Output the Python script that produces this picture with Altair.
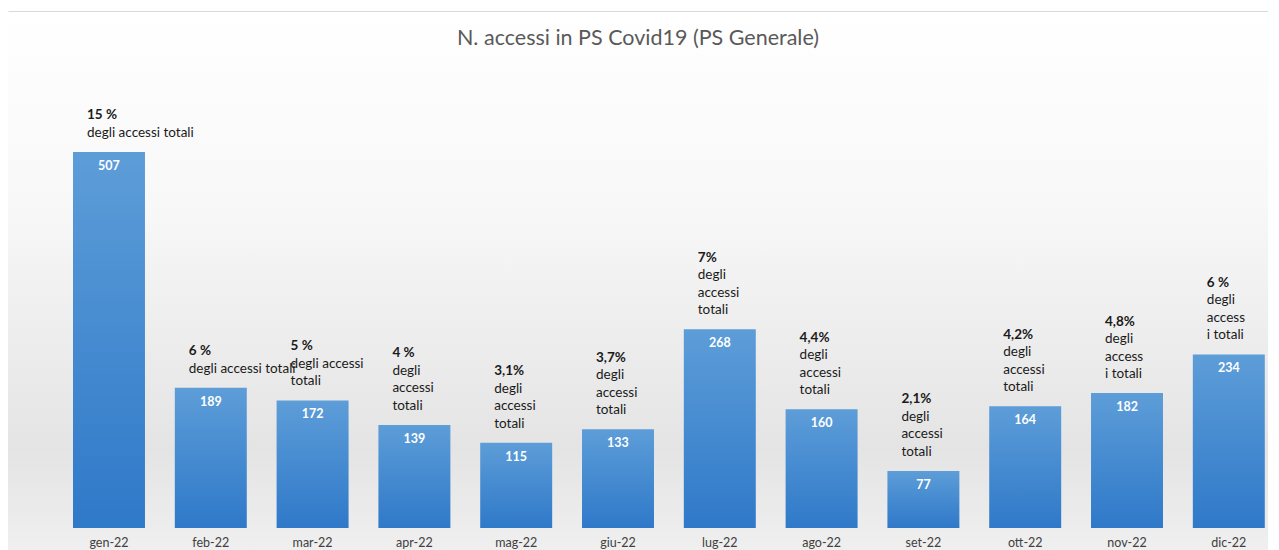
import altair as alt
import pandas as pd

months = ["gen-22", "feb-22", "mar-22", "apr-22", "mag-22", "giu-22",
          "lug-22", "ago-22", "set-22", "ott-22", "nov-22", "dic-22"]
values = [507, 189, 172, 139, 115, 133, 268, 160, 77, 164, 182, 234]
pcts = ["15 %", "6 %", "5 %", "4 %", "3,1%", "3,7%",
        "7%", "4,4%", "2,1%", "4,2%", "4,8%", "6 %"]
notes = [
    ["degli accessi totali"],
    [" degli accessi totali"],
    [" degli accessi", "totali"],
    [" degli", "accessi", "totali"],
    [" degli", "accessi", "totali"],
    [" degli", "accessi", "totali"],
    [" degli", "accessi", "totali"],
    [" degli", "accessi", "totali"],
    [" degli", "accessi", "totali"],
    [" degli", "accessi", "totali"],
    [" degli", "access", "i totali"],
    [" degli", "access", "i totali"],
]

NB = "\u00a0"


def keep(s):
    return NB + s[1:] if s.startswith(" ") else s


df = pd.DataFrame({"month": months, "value": values})

rows = []
for m, v, p, n in zip(months, values, pcts, notes):
    lines = [(p, True)] + [(keep(s), False) for s in n]
    L = len(lines)
    for i, (s, b) in enumerate(lines):
        rows.append({"month": m, "value": v, "line": s, "k": L - 1 - i, "bold": b})
ann = pd.DataFrame(rows)

FONT = "Lato"
W, H = 1260, 517
LH = 17.5
xscale = alt.Scale(paddingInner=0.293, paddingOuter=0.335, align=0.953)
yscale = alt.Scale(domain=[0, 697], nice=False)

bar_grad = alt.Gradient(
    gradient="linear",
    stops=[alt.GradientStop(color="#5d9dd8", offset=0),
           alt.GradientStop(color="#2f79c9", offset=1)],
    x1=0, x2=0, y1=0, y2=1,
)
bg_grad = alt.Gradient(
    gradient="linear",
    stops=[alt.GradientStop(color="#ffffff", offset=0),
           alt.GradientStop(color="#f8f8f8", offset=0.35),
           alt.GradientStop(color="#e4e4e4", offset=0.8),
           alt.GradientStop(color="#f0f0f0", offset=1)],
    x1=0, x2=0, y1=0, y2=1,
)

background = alt.Chart(pd.DataFrame({"bg": [0]})).mark_rect(color=bg_grad).encode(
    x=alt.value(0), x2=alt.value(W), y=alt.value(0), y2=alt.value(H + 30),
)

bars = alt.Chart(df).mark_bar(color=bar_grad).encode(
    x=alt.X("month:N", sort=months, scale=xscale,
            axis=alt.Axis(title=None, orient="bottom", domain=False, ticks=False,
                          labelAngle=0, labelFont=FONT, labelFontSize=12.5,
                          labelColor="#404040", labelPadding=8, zindex=2)),
    y=alt.Y("value:Q", scale=yscale,
            axis=alt.Axis(title=None, labels=False, grid=False, ticks=True,
                          tickSize=3, tickColor="#d9d9d9", domainColor="#d9d9d9",
                          tickCount=10, zindex=2)),
)

topline = alt.Chart(df).mark_bar(opacity=0).encode(
    x=alt.X("month:N", sort=months, scale=xscale,
            axis=alt.Axis(title=None, orient="top", labels=False, ticks=False,
                          domainColor="#d9d9d9", zindex=2)),
    y=alt.Y("value:Q", scale=yscale, axis=None),
)

vals = alt.Chart(df).mark_text(
    color="white", font=FONT, fontSize=12.5, fontWeight="bold",
    baseline="middle", dy=14,
).encode(
    x=alt.X("month:N", sort=months, scale=xscale, axis=None),
    y=alt.Y("value:Q", scale=yscale, axis=None),
    text=alt.Text("value:Q"),
)

ann_layers = []
for k in range(4):
    for b in (True, False):
        ann_layers.append(
            alt.Chart(ann).transform_filter(
                (alt.datum.k == k) & (alt.datum.bold == b)
            ).mark_text(
                color="#1a1a1a", font=FONT, fontSize=13.5,
                fontWeight="bold" if b else "normal",
                align="left", baseline="bottom", dx=14, dy=-12 - k * LH,
            ).encode(
                x=alt.X("month:N", sort=months, scale=xscale, bandPosition=0, axis=None),
                y=alt.Y("value:Q", scale=yscale, axis=None),
                text=alt.Text("line:N"),
            )
        )

chart = alt.layer(background, bars, topline, vals, *ann_layers).resolve_axis(
    x="independent"
).properties(
    width=W,
    height=H,
    padding={"left": 0, "top": 3, "right": 0, "bottom": 0},
    title=alt.TitleParams(
        "N. accessi in PS Covid19 (PS Generale)",
        font=FONT, fontSize=21.5, fontWeight="normal", color="#595959",
        anchor="middle", baseline="middle", offset=-49,
    ),
).configure_view(
    stroke="transparent"
).configure(
    background="white"
)

chart.save("out.html", embed_options={"renderer": "svg", "actions": False})
